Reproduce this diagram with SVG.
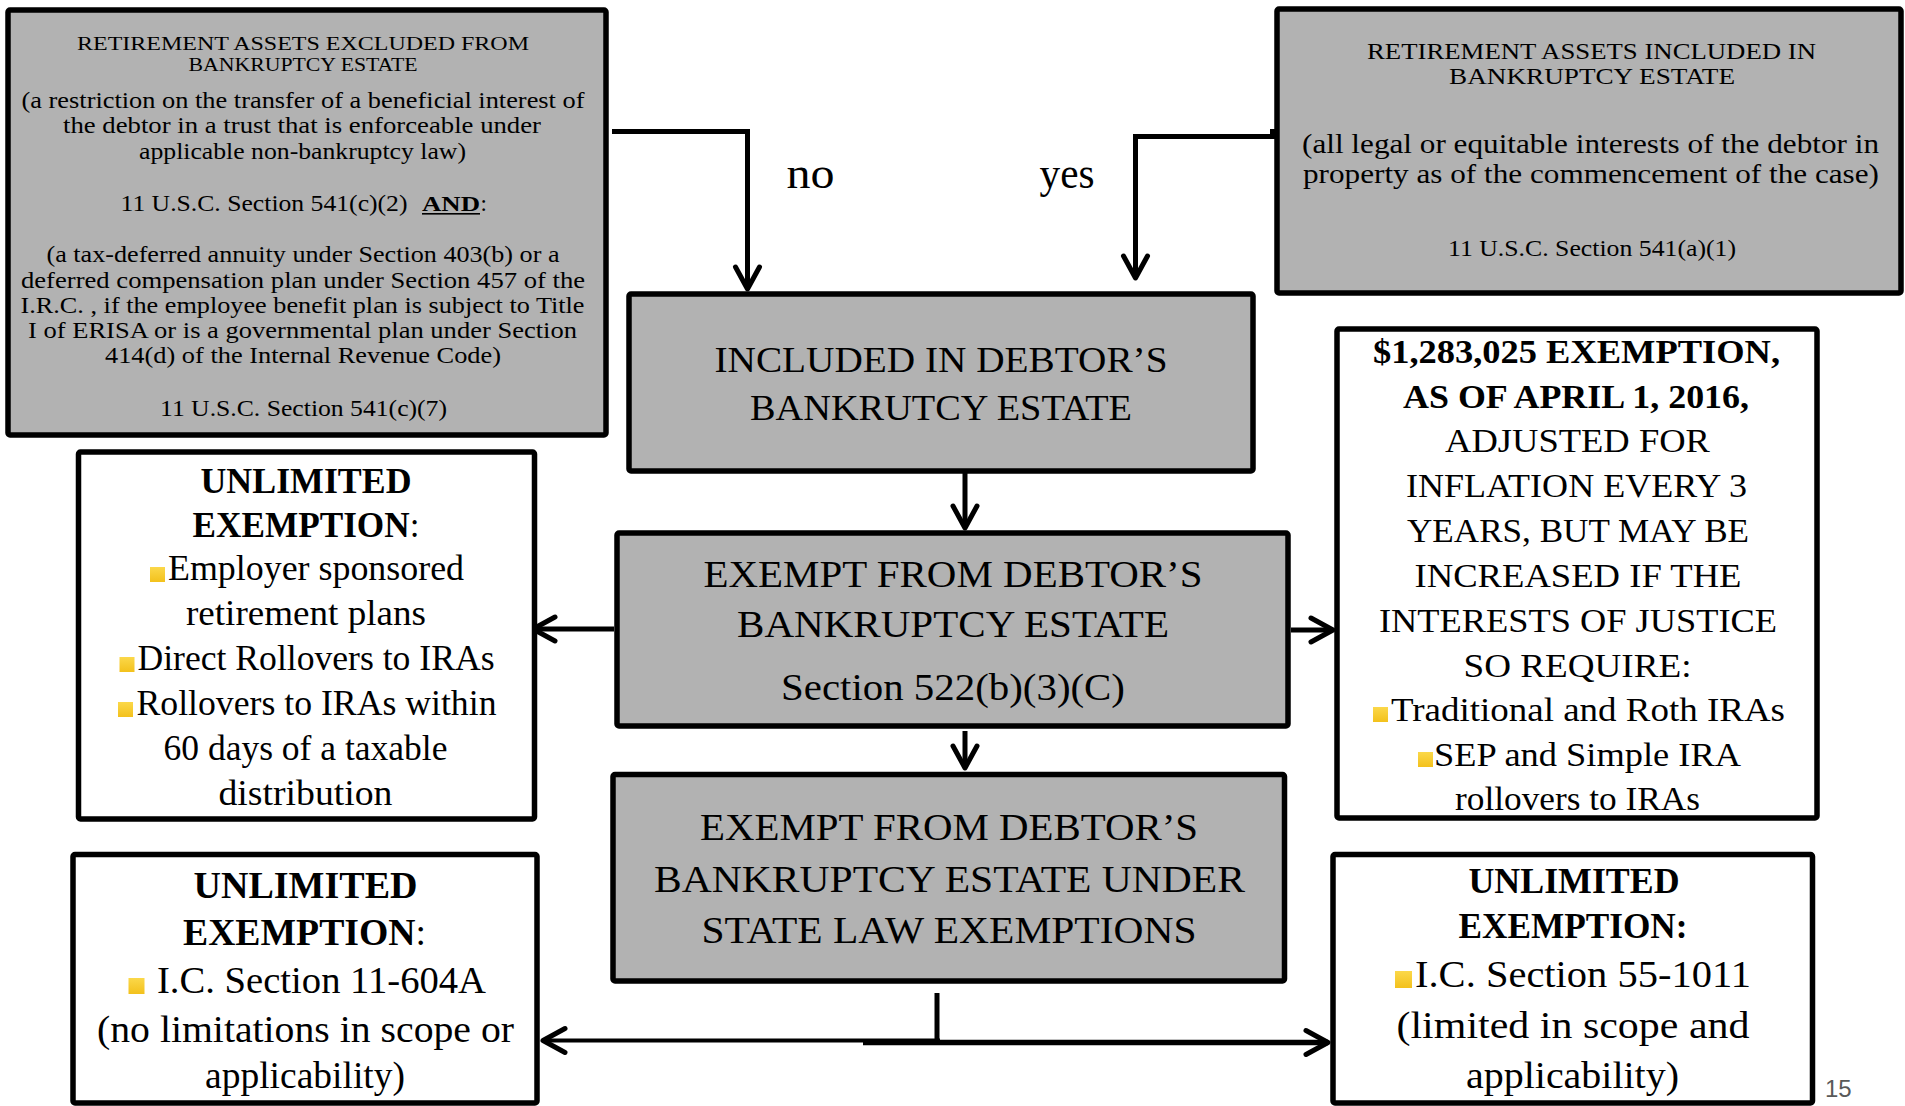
<svg xmlns="http://www.w3.org/2000/svg" width="1905" height="1106" viewBox="0 0 1905 1106">
<style>
.t{font-family:"Liberation Serif","Times New Roman",serif;fill:#000;}
.m{text-anchor:middle;}
.b{font-weight:bold;}
.gray{fill:#b2b2b2;stroke:#000;stroke-width:5.5;stroke-linejoin:round;}
.white{fill:#fff;stroke:#000;stroke-width:5.5;stroke-linejoin:round;}
.c{fill:none;stroke:#000;stroke-width:5;}
.bul{fill:url(#yel);}
.pg{font-family:"Liberation Sans",Arial,sans-serif;fill:#595959;font-size:24px;}
</style>
<defs>
<linearGradient id="yel" x1="0" y1="0" x2="0" y2="1">
<stop offset="0" stop-color="#fbd84a"/>
<stop offset="1" stop-color="#f3c11c"/>
</linearGradient>
<marker id="chev" viewBox="-28 -17 32 34" refX="0" refY="0" markerWidth="32" markerHeight="34" markerUnits="userSpaceOnUse" orient="auto">
<path d="M-22,-12 L0,0 L-22,12" fill="none" stroke="#000" stroke-width="5" stroke-linecap="round" stroke-linejoin="round"/>
</marker>
</defs>
<rect width="1905" height="1106" fill="#fff"/>

<g id="connectors">
<path class="c" d="M612,131.5 H747.5 V289" marker-end="url(#chev)"/>
<path class="c" d="M1276,136.5 H1135.5 V278" marker-end="url(#chev)"/>
<rect x="1270" y="129" width="7" height="7" fill="#000"/>
<path class="c" d="M965,473 V528" marker-end="url(#chev)"/>
<path class="c" d="M965,731 V768" marker-end="url(#chev)"/>
<path class="c" d="M614,629 H533" marker-end="url(#chev)"/>
<path class="c" d="M1291,630 H1333" marker-end="url(#chev)"/>
<path class="c" d="M937,993 V1041"/>
<path class="c" style="stroke-width:4" d="M940,1040.5 H543" marker-end="url(#chev)"/>
<path class="c" style="stroke-width:5.5" d="M863,1042.5 H1328" marker-end="url(#chev)"/>
</g>

<g id="excluded">
<rect class="gray" x="8" y="10" width="598" height="425" rx="2"/>
<text class="t m" x="303" y="49.5" font-size="19.5" textLength="452" lengthAdjust="spacingAndGlyphs">RETIREMENT ASSETS EXCLUDED FROM</text>
<text class="t m" x="303" y="71" font-size="19.5" textLength="229" lengthAdjust="spacingAndGlyphs">BANKRUPTCY ESTATE</text>
<text class="t m" x="303" y="107.5" font-size="23" textLength="563" lengthAdjust="spacingAndGlyphs">(a restriction on the transfer of a beneficial interest of</text>
<text class="t m" x="302" y="133.3" font-size="23" textLength="478" lengthAdjust="spacingAndGlyphs">the debtor in a trust that is enforceable under</text>
<text class="t m" x="302.5" y="159.3" font-size="23" textLength="327" lengthAdjust="spacingAndGlyphs">applicable non-bankruptcy law)</text>
<text class="t" x="120.5" y="210.7" font-size="23" textLength="287" lengthAdjust="spacingAndGlyphs">11 U.S.C. Section 541(c)(2)</text>
<text class="t b" x="422" y="210.7" font-size="21" textLength="58" lengthAdjust="spacingAndGlyphs">AND</text>
<rect x="422" y="213" width="58" height="1.6" fill="#000"/>
<text class="t" x="480.5" y="210.7" font-size="23">:</text>
<text class="t m" x="303" y="261.7" font-size="23" textLength="513" lengthAdjust="spacingAndGlyphs">(a tax-deferred annuity under Section 403(b) or a</text>
<text class="t m" x="303" y="287.7" font-size="23" textLength="564" lengthAdjust="spacingAndGlyphs">deferred compensation plan under Section 457 of the</text>
<text class="t m" x="302.5" y="313.3" font-size="23" textLength="564" lengthAdjust="spacingAndGlyphs">I.R.C. , if the employee benefit plan is subject to Title</text>
<text class="t m" x="302.5" y="338.3" font-size="23" textLength="549" lengthAdjust="spacingAndGlyphs">I of ERISA or is a governmental plan  under Section</text>
<text class="t m" x="303" y="363.3" font-size="23" textLength="396" lengthAdjust="spacingAndGlyphs">414(d) of the Internal Revenue Code)</text>
<text class="t m" x="303.5" y="416" font-size="23" textLength="287" lengthAdjust="spacingAndGlyphs">11 U.S.C. Section 541(c)(7)</text>
</g>

<g id="included">
<rect class="gray" x="1277" y="9" width="624" height="284" rx="2"/>
<text class="t m" x="1591.5" y="59" font-size="24" textLength="449" lengthAdjust="spacingAndGlyphs">RETIREMENT ASSETS INCLUDED IN</text>
<text class="t m" x="1592" y="83.5" font-size="24" textLength="286" lengthAdjust="spacingAndGlyphs">BANKRUPTCY ESTATE</text>
<text class="t m" x="1590.5" y="153" font-size="27" textLength="577" lengthAdjust="spacingAndGlyphs">(all legal or equitable interests of the debtor in</text>
<text class="t m" x="1591" y="183" font-size="27" textLength="576" lengthAdjust="spacingAndGlyphs">property as of the commencement of the case)</text>
<text class="t m" x="1592" y="256" font-size="23" textLength="288" lengthAdjust="spacingAndGlyphs">11 U.S.C. Section 541(a)(1)</text>
</g>

<g id="label-no"><text class="t" x="786.5" y="188" font-size="44" textLength="48" lengthAdjust="spacingAndGlyphs">no</text></g>
<g id="label-yes"><text class="t" x="1039.5" y="188" font-size="44" textLength="55" lengthAdjust="spacingAndGlyphs">yes</text></g>

<g id="in-estate">
<rect class="gray" x="629" y="294" width="624" height="177" rx="2"/>
<text class="t m" x="941" y="372" font-size="36" textLength="453" lengthAdjust="spacingAndGlyphs">INCLUDED IN DEBTOR’S</text>
<text class="t m" x="941" y="420" font-size="36" textLength="382" lengthAdjust="spacingAndGlyphs">BANKRUTCY ESTATE</text>
</g>

<g id="exempt-522">
<rect class="gray" x="617" y="533" width="671" height="193" rx="2"/>
<text class="t m" x="953" y="587" font-size="38" textLength="499" lengthAdjust="spacingAndGlyphs">EXEMPT FROM DEBTOR’S</text>
<text class="t m" x="953" y="637" font-size="38" textLength="432" lengthAdjust="spacingAndGlyphs">BANKRUPTCY ESTATE</text>
<text class="t m" x="953" y="700" font-size="38" textLength="344" lengthAdjust="spacingAndGlyphs">Section 522(b)(3)(C)</text>
</g>

<g id="exempt-state">
<rect class="gray" x="613" y="774.5" width="671.5" height="206.5" rx="2"/>
<text class="t m" x="949" y="840" font-size="38" textLength="498" lengthAdjust="spacingAndGlyphs">EXEMPT FROM DEBTOR’S</text>
<text class="t m" x="949.5" y="892" font-size="38" textLength="591" lengthAdjust="spacingAndGlyphs">BANKRUPTCY ESTATE UNDER</text>
<text class="t m" x="949" y="943" font-size="38" textLength="495" lengthAdjust="spacingAndGlyphs">STATE LAW EXEMPTIONS</text>
</g>

<g id="unlimited-employer">
<rect class="white" x="78.5" y="452" width="456" height="367" rx="2"/>
<text class="t m b" x="306" y="493" font-size="35" textLength="211" lengthAdjust="spacingAndGlyphs">UNLIMITED</text>
<text class="t m" x="306" y="537.3" font-size="35" textLength="227" lengthAdjust="spacingAndGlyphs"><tspan class="b">EXEMPTION</tspan>:</text>
<rect class="bul" x="150" y="567" width="15" height="15"/>
<text class="t" x="168" y="580" font-size="35" textLength="296" lengthAdjust="spacingAndGlyphs">Employer sponsored</text>
<text class="t m" x="306" y="625" font-size="35" textLength="240" lengthAdjust="spacingAndGlyphs">retirement plans</text>
<rect class="bul" x="119.5" y="657" width="15" height="15"/>
<text class="t" x="137.5" y="670" font-size="35" textLength="357" lengthAdjust="spacingAndGlyphs">Direct Rollovers to IRAs</text>
<rect class="bul" x="118" y="702" width="15" height="15"/>
<text class="t" x="136.5" y="715" font-size="35" textLength="360" lengthAdjust="spacingAndGlyphs">Rollovers to IRAs within</text>
<text class="t m" x="305.5" y="760" font-size="35" textLength="284" lengthAdjust="spacingAndGlyphs">60 days of a taxable</text>
<text class="t m" x="305.5" y="805" font-size="35" textLength="174" lengthAdjust="spacingAndGlyphs">distribution</text>
</g>

<g id="dollar-exemption">
<rect class="white" x="1337" y="329" width="480" height="489" rx="2"/>
<text class="t m b" x="1576.5" y="362.7" font-size="34" textLength="407" lengthAdjust="spacingAndGlyphs">$1,283,025 EXEMPTION,</text>
<text class="t m b" x="1576" y="408.3" font-size="34" textLength="346" lengthAdjust="spacingAndGlyphs">AS OF APRIL 1, 2016,</text>
<text class="t m" x="1577.5" y="452.3" font-size="34" textLength="265" lengthAdjust="spacingAndGlyphs">ADJUSTED FOR</text>
<text class="t m" x="1576.5" y="496.7" font-size="34" textLength="341" lengthAdjust="spacingAndGlyphs">INFLATION EVERY 3</text>
<text class="t m" x="1578" y="541.7" font-size="34" textLength="342" lengthAdjust="spacingAndGlyphs">YEARS, BUT MAY BE</text>
<text class="t m" x="1578" y="586.7" font-size="34" textLength="327" lengthAdjust="spacingAndGlyphs">INCREASED IF THE</text>
<text class="t m" x="1578" y="631.7" font-size="34" textLength="398" lengthAdjust="spacingAndGlyphs">INTERESTS OF JUSTICE</text>
<text class="t m" x="1577.5" y="676.7" font-size="34" textLength="228" lengthAdjust="spacingAndGlyphs">SO REQUIRE:</text>
<rect class="bul" x="1373" y="707" width="15" height="15"/>
<text class="t" x="1391" y="721" font-size="34" textLength="394" lengthAdjust="spacingAndGlyphs">Traditional and Roth IRAs</text>
<rect class="bul" x="1418" y="752" width="15" height="15"/>
<text class="t" x="1434" y="766" font-size="34" textLength="307" lengthAdjust="spacingAndGlyphs">SEP and Simple IRA</text>
<text class="t m" x="1577.5" y="810" font-size="34" textLength="245" lengthAdjust="spacingAndGlyphs">rollovers to IRAs</text>
</g>

<g id="unlimited-11-604a">
<rect class="white" x="73" y="854.5" width="464" height="248.5" rx="2"/>
<text class="t m b" x="305.5" y="898.3" font-size="38" textLength="224" lengthAdjust="spacingAndGlyphs">UNLIMITED</text>
<text class="t m" x="304.5" y="945" font-size="38" textLength="243" lengthAdjust="spacingAndGlyphs"><tspan class="b">EXEMPTION</tspan>:</text>
<rect class="bul" x="128.5" y="978" width="16" height="16"/>
<text class="t" x="157" y="993.3" font-size="38" textLength="329" lengthAdjust="spacingAndGlyphs">I.C. Section 11-604A</text>
<text class="t m" x="305.5" y="1041.7" font-size="38" textLength="417" lengthAdjust="spacingAndGlyphs">(no limitations in scope or</text>
<text class="t m" x="305" y="1088.3" font-size="38" textLength="200" lengthAdjust="spacingAndGlyphs">applicability)</text>
</g>

<g id="unlimited-55-1011">
<rect class="white" x="1333" y="854.5" width="479.5" height="248.5" rx="2"/>
<text class="t m b" x="1574" y="893.3" font-size="35" textLength="211" lengthAdjust="spacingAndGlyphs">UNLIMITED</text>
<text class="t m b" x="1573" y="938.3" font-size="35" textLength="229" lengthAdjust="spacingAndGlyphs">EXEMPTION:</text>
<rect class="bul" x="1395" y="971" width="17" height="17"/>
<text class="t" x="1415" y="986.7" font-size="38" textLength="336" lengthAdjust="spacingAndGlyphs">I.C. Section 55-1011</text>
<text class="t m" x="1573" y="1038.3" font-size="38" textLength="353" lengthAdjust="spacingAndGlyphs">(limited in scope and</text>
<text class="t m" x="1572.5" y="1088.3" font-size="38" textLength="213" lengthAdjust="spacingAndGlyphs">applicability)</text>
</g>

<g id="page-number"><text class="pg" x="1825" y="1097">15</text></g>
</svg>
